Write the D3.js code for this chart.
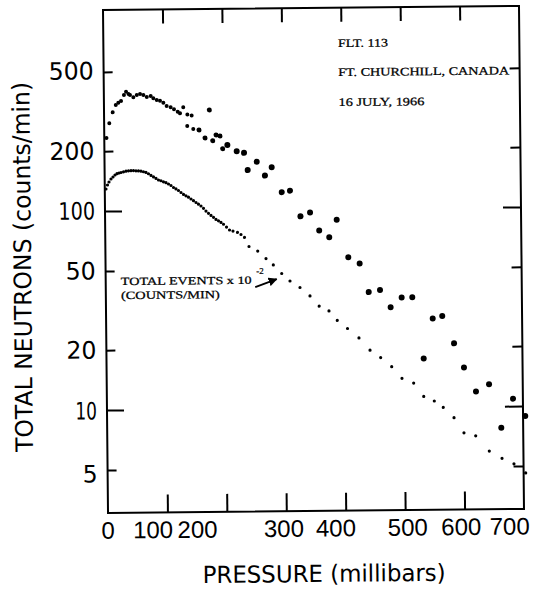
<!DOCTYPE html>
<html><head><meta charset="utf-8">
<script src="https://cdn.jsdelivr.net/npm/d3@7"></script>
<style>body{margin:0;background:#fff}</style>
</head><body>
<svg id="chart" width="542" height="589"></svg>
<script>
// ---- data ----
const neutronPressure = [3.7, 8.7, 14.6, 19.9, 24.2, 28.8, 33.8, 37.4, 41.5, 44.0, 49.6, 55.4, 60.9, 66.5, 72.2, 78.8, 83.2, 88.9, 94.4, 100, 105.5, 112.2, 117.8, 124, 127.9, 133.4, 139.8, 140.2, 147.4, 149.9, 159.5, 169.5, 177.2, 182.4, 188.1, 194.7, 199, 207, 222.6, 234.9, 240.8, 256.1, 269.7, 281.2, 297.7, 311.6, 328.8, 345, 360.1, 376.9, 389.7, 408.6, 427.6, 442.4, 461.4, 479, 497.7, 515.6, 533.8, 549.6, 565.7, 585.1, 601.4, 621.2, 643.3, 663.2, 683.4, 703.7];
const neutronCounts = [233, 276, 313, 341, 350, 357, 382, 397, 386, 382, 372, 382, 386, 381, 372, 377, 367, 359, 356, 348, 335, 330, 322, 313, 307, 329, 265, 303, 299, 256, 253, 230, 318, 223, 238, 235, 203, 212, 197, 193, 158, 174, 148, 163, 122, 124, 92, 96, 78, 72, 88, 57, 53, 38, 38.9, 31.8, 35.6, 35.6, 17.5, 27.8, 28.6, 20.8, 15.7, 11.9, 12.9, 7.8, 10.9, 8.9];

const eventsPressure = [2.0, 4.6, 7.2, 10.6, 14.0, 17.4, 20.8, 24.2, 27.6, 31.8, 36.0, 40.2, 44.4, 48.6, 52.8, 57.0, 61.2, 65.4, 69.6, 73.8, 78.0, 82.2, 86.4, 90.5, 94.7, 98.9, 103.1, 107.3, 111.5, 115.7, 119.8, 124.0, 128.2, 132.4, 136.5, 140.7, 144.9, 149.1, 153.3, 157.4, 161.6, 165.8, 169.9, 174.1, 178.3, 182.5, 186.6, 190.8, 195.0, 199.2, 204.2, 209.2, 215.0, 222.6, 228.4, 234.3, 241.7, 256.3, 270.1, 282.3, 296.3, 310.1, 326.8, 343.5, 358.8, 375.2, 389.0, 406.1, 425.2, 443.6, 461.4, 479.8, 496.9, 516.5, 533.2, 550.9, 565.9, 583.8, 600.3, 620.0, 642.6, 663.9, 683.9, 703.5];
const eventsCounts = [129.1, 135.2, 139.9, 144.8, 148.2, 151.6, 153.9, 155.1, 156.0, 157.2, 158.2, 158.9, 159.1, 159.2, 158.8, 158.6, 158.0, 156.9, 155.6, 153.2, 150.2, 147.6, 145.0, 142.4, 141.1, 139.4, 137.9, 135.8, 133.4, 130.3, 128.1, 125.8, 122.9, 120.1, 118.2, 116.3, 113.9, 111.6, 109.3, 107.1, 104.9, 102.1, 98.9, 96.3, 93.9, 91.9, 89.6, 88.2, 86.5, 84.7, 82.0, 79.2, 78.2, 77.0, 75.1, 72.6, 65.3, 61.9, 56.7, 52.6, 47.6, 43.6, 40.4, 36.6, 32.5, 30.7, 27.5, 25.0, 22.4, 19.4, 17.8, 16.0, 13.96, 13.2, 11.3, 10.7, 9.93, 8.8, 7.38, 7.12, 5.96, 5.47, 5.13, 4.61];

const xTickValues = [0, 100, 200, 300, 400, 500, 600, 700];
const xTickLabels = ["0", "100", "200", "300", "400", "500", "600", "700"];
const yTickValues = [5, 10, 20, 50, 100, 200, 500];
const yTickLabels = ["5", "10", "20", "50", "100", "200", "500"];
const yMajorTicks = [10, 100];
const xTitle = "PRESSURE  (millibars)";
const yTitle = "TOTAL NEUTRONS  (counts/min)";
const flightNotes = ["FLT. 113", "FT. CHURCHILL, CANADA", "16 JULY, 1966"];
const eventsNote = ["TOTAL EVENTS x 10", "-2", "(COUNTS/MIN)"];

// ---- layout (hand-lettered label shifts, px) ----
const xLabelShift = [-0.5, -15, -30, -3, -10.5, 2, -4, -15];
const yLabelDrop = [4, 1, 0, 0, 0, 0, -1];

// ---- drawing ----
const svg = d3.select("#chart");
const g = svg.append("g").attr("transform", "rotate(-0.57,313,260)");

const x = d3.scaleLinear().domain([0, 700]).range([105.5, 521.5]);
const y = d3.scaleLog().domain([3.04, 1023]).range([511, 8]);

const sansFont = "'DejaVu Sans', sans-serif";
const xLabelFont = "'Liberation Sans', Arial, sans-serif";
const serifFont = "'Liberation Serif', 'DejaVu Serif', serif";

// hand-lettered digits: narrow "1", wide round others
const labelWidth = (s, one, other) => Array.from(s).reduce((w, c) => w + (c === "1" ? one : other), 0);

function styleAxis(sel) {
  sel.select(".domain").remove();
  sel.selectAll(".tick line").attr("stroke", "#000").attr("stroke-width", 2);
  sel.selectAll("text").attr("fill", "#000").attr("font-family", sansFont).attr("font-size", 24);
}

// left axis (labels + inner ticks)
const leftAxis = g.append("g").attr("transform", `translate(${x(0)},0)`)
  .call(d3.axisLeft(y).tickValues(yTickValues)
    .tickFormat((d, i) => yTickLabels[i]).tickSizeInner(-9).tickSizeOuter(0).tickPadding(10));
styleAxis(leftAxis);
leftAxis.selectAll(".tick line").attr("x2", d => yMajorTicks.includes(d) ? 17 : 9);
leftAxis.selectAll(".tick text")
  .attr("y", (d, i) => yLabelDrop[i])
  .attr("textLength", function () { return labelWidth(this.textContent, 6.5, 15); })
  .attr("lengthAdjust", "spacingAndGlyphs");

// right axis (inner ticks)
const rightAxis = g.append("g").attr("transform", `translate(${x(700)},0)`)
  .call(d3.axisRight(y).tickValues(yTickValues).tickFormat("").tickSizeInner(-10).tickSizeOuter(0));
styleAxis(rightAxis);
rightAxis.selectAll(".tick line").attr("x2", d => yMajorTicks.includes(d) ? -18 : -10);

// top axis
const topAxis = g.append("g").attr("transform", `translate(0,${y.range()[1]})`)
  .call(d3.axisTop(x).tickValues(xTickValues.slice(1, -1)).tickFormat("").tickSizeInner(-14).tickSizeOuter(0));
styleAxis(topAxis);

// bottom axis
const bottomAxis = g.append("g").attr("transform", `translate(0,${y.range()[0]})`)
  .call(d3.axisBottom(x).tickValues(xTickValues).tickFormat((d, i) => xTickLabels[i])
    .tickSizeInner(-18).tickSizeOuter(0).tickPadding(8.5));
styleAxis(bottomAxis);
bottomAxis.selectAll(".tick line").filter(d => d === 0 || d === 700).remove();
bottomAxis.selectAll(".tick text")
  .attr("x", (d, i) => xLabelShift[i])
  .attr("font-family", xLabelFont).attr("font-size", 24);

// frame
g.append("rect")
  .attr("x", x(0)).attr("y", y.range()[1])
  .attr("width", x(700) - x(0)).attr("height", y.range()[0] - y.range()[1])
  .attr("fill", "none").attr("stroke", "#000").attr("stroke-width", 2);

// series
const neutrons = neutronPressure.map((p, i) => ({p, v: neutronCounts[i]}));
const events = eventsPressure.map((p, i) => ({p, v: eventsCounts[i]}));

g.append("g").selectAll("circle").data(events).join("circle")
  .attr("cx", d => x(d.p)).attr("cy", d => y(d.v))
  .attr("r", 1.6).attr("fill", "#000");

g.append("g").selectAll("circle").data(neutrons).join("circle")
  .attr("cx", d => x(d.p)).attr("cy", d => y(d.v))
  .attr("r", d => d.p < 150 ? 2 : (d.p < 200 ? 2.5 : 3)).attr("fill", "#000");

// titles
g.append("text")
  .attr("transform", "translate(31,264) rotate(-90)")
  .attr("text-anchor", "middle")
  .attr("font-family", sansFont).attr("font-size", 24)
  .attr("textLength", 370).attr("lengthAdjust", "spacingAndGlyphs")
  .text(yTitle);

g.append("text")
  .attr("x", 321).attr("y", 582)
  .attr("text-anchor", "middle")
  .attr("font-family", sansFont).attr("font-size", 23.5)
  .attr("textLength", 243).attr("lengthAdjust", "spacingAndGlyphs")
  .text(xTitle);

// flight notes
const noteLens = [50, 171, 86];
const noteYs = [47.3, 76.3, 106.3];
flightNotes.forEach((t, i) => {
  g.append("text").attr("x", 340).attr("y", noteYs[i])
    .attr("font-family", serifFont).attr("font-size", 11.5)
    .attr("stroke", "#000").attr("stroke-width", 0.25)
    .attr("textLength", noteLens[i]).attr("lengthAdjust", "spacingAndGlyphs")
    .text(t);
});

// events note with arrow
g.append("text").attr("x", 120.5).attr("y", 283.2)
  .attr("font-family", serifFont).attr("font-size", 11)
  .attr("stroke", "#000").attr("stroke-width", 0.25)
  .attr("textLength", 131).attr("lengthAdjust", "spacingAndGlyphs")
  .text(eventsNote[0]);
g.append("text").attr("x", 256).attr("y", 273.5)
  .attr("font-family", serifFont).attr("font-size", 9)
  .attr("stroke", "#000").attr("stroke-width", 0.2)
  .text(eventsNote[1]);
g.append("text").attr("x", 120.5).attr("y", 297.2)
  .attr("font-family", serifFont).attr("font-size", 11)
  .attr("stroke", "#000").attr("stroke-width", 0.25)
  .attr("textLength", 99).attr("lengthAdjust", "spacingAndGlyphs")
  .text(eventsNote[2]);

svg.append("defs").append("marker").attr("id", "ah")
  .attr("viewBox", "0 0 10 10").attr("refX", 9).attr("refY", 5)
  .attr("markerWidth", 5).attr("markerHeight", 5).attr("orient", "auto")
  .append("path").attr("d", "M0,0L10,5L0,10z").attr("fill", "#000");
g.append("line").attr("x1", 255).attr("y1", 286.5).attr("x2", 276.5).attr("y2", 278.7)
  .attr("stroke", "#000").attr("stroke-width", 1.8).attr("marker-end", "url(#ah)");
</script>
</body></html>
